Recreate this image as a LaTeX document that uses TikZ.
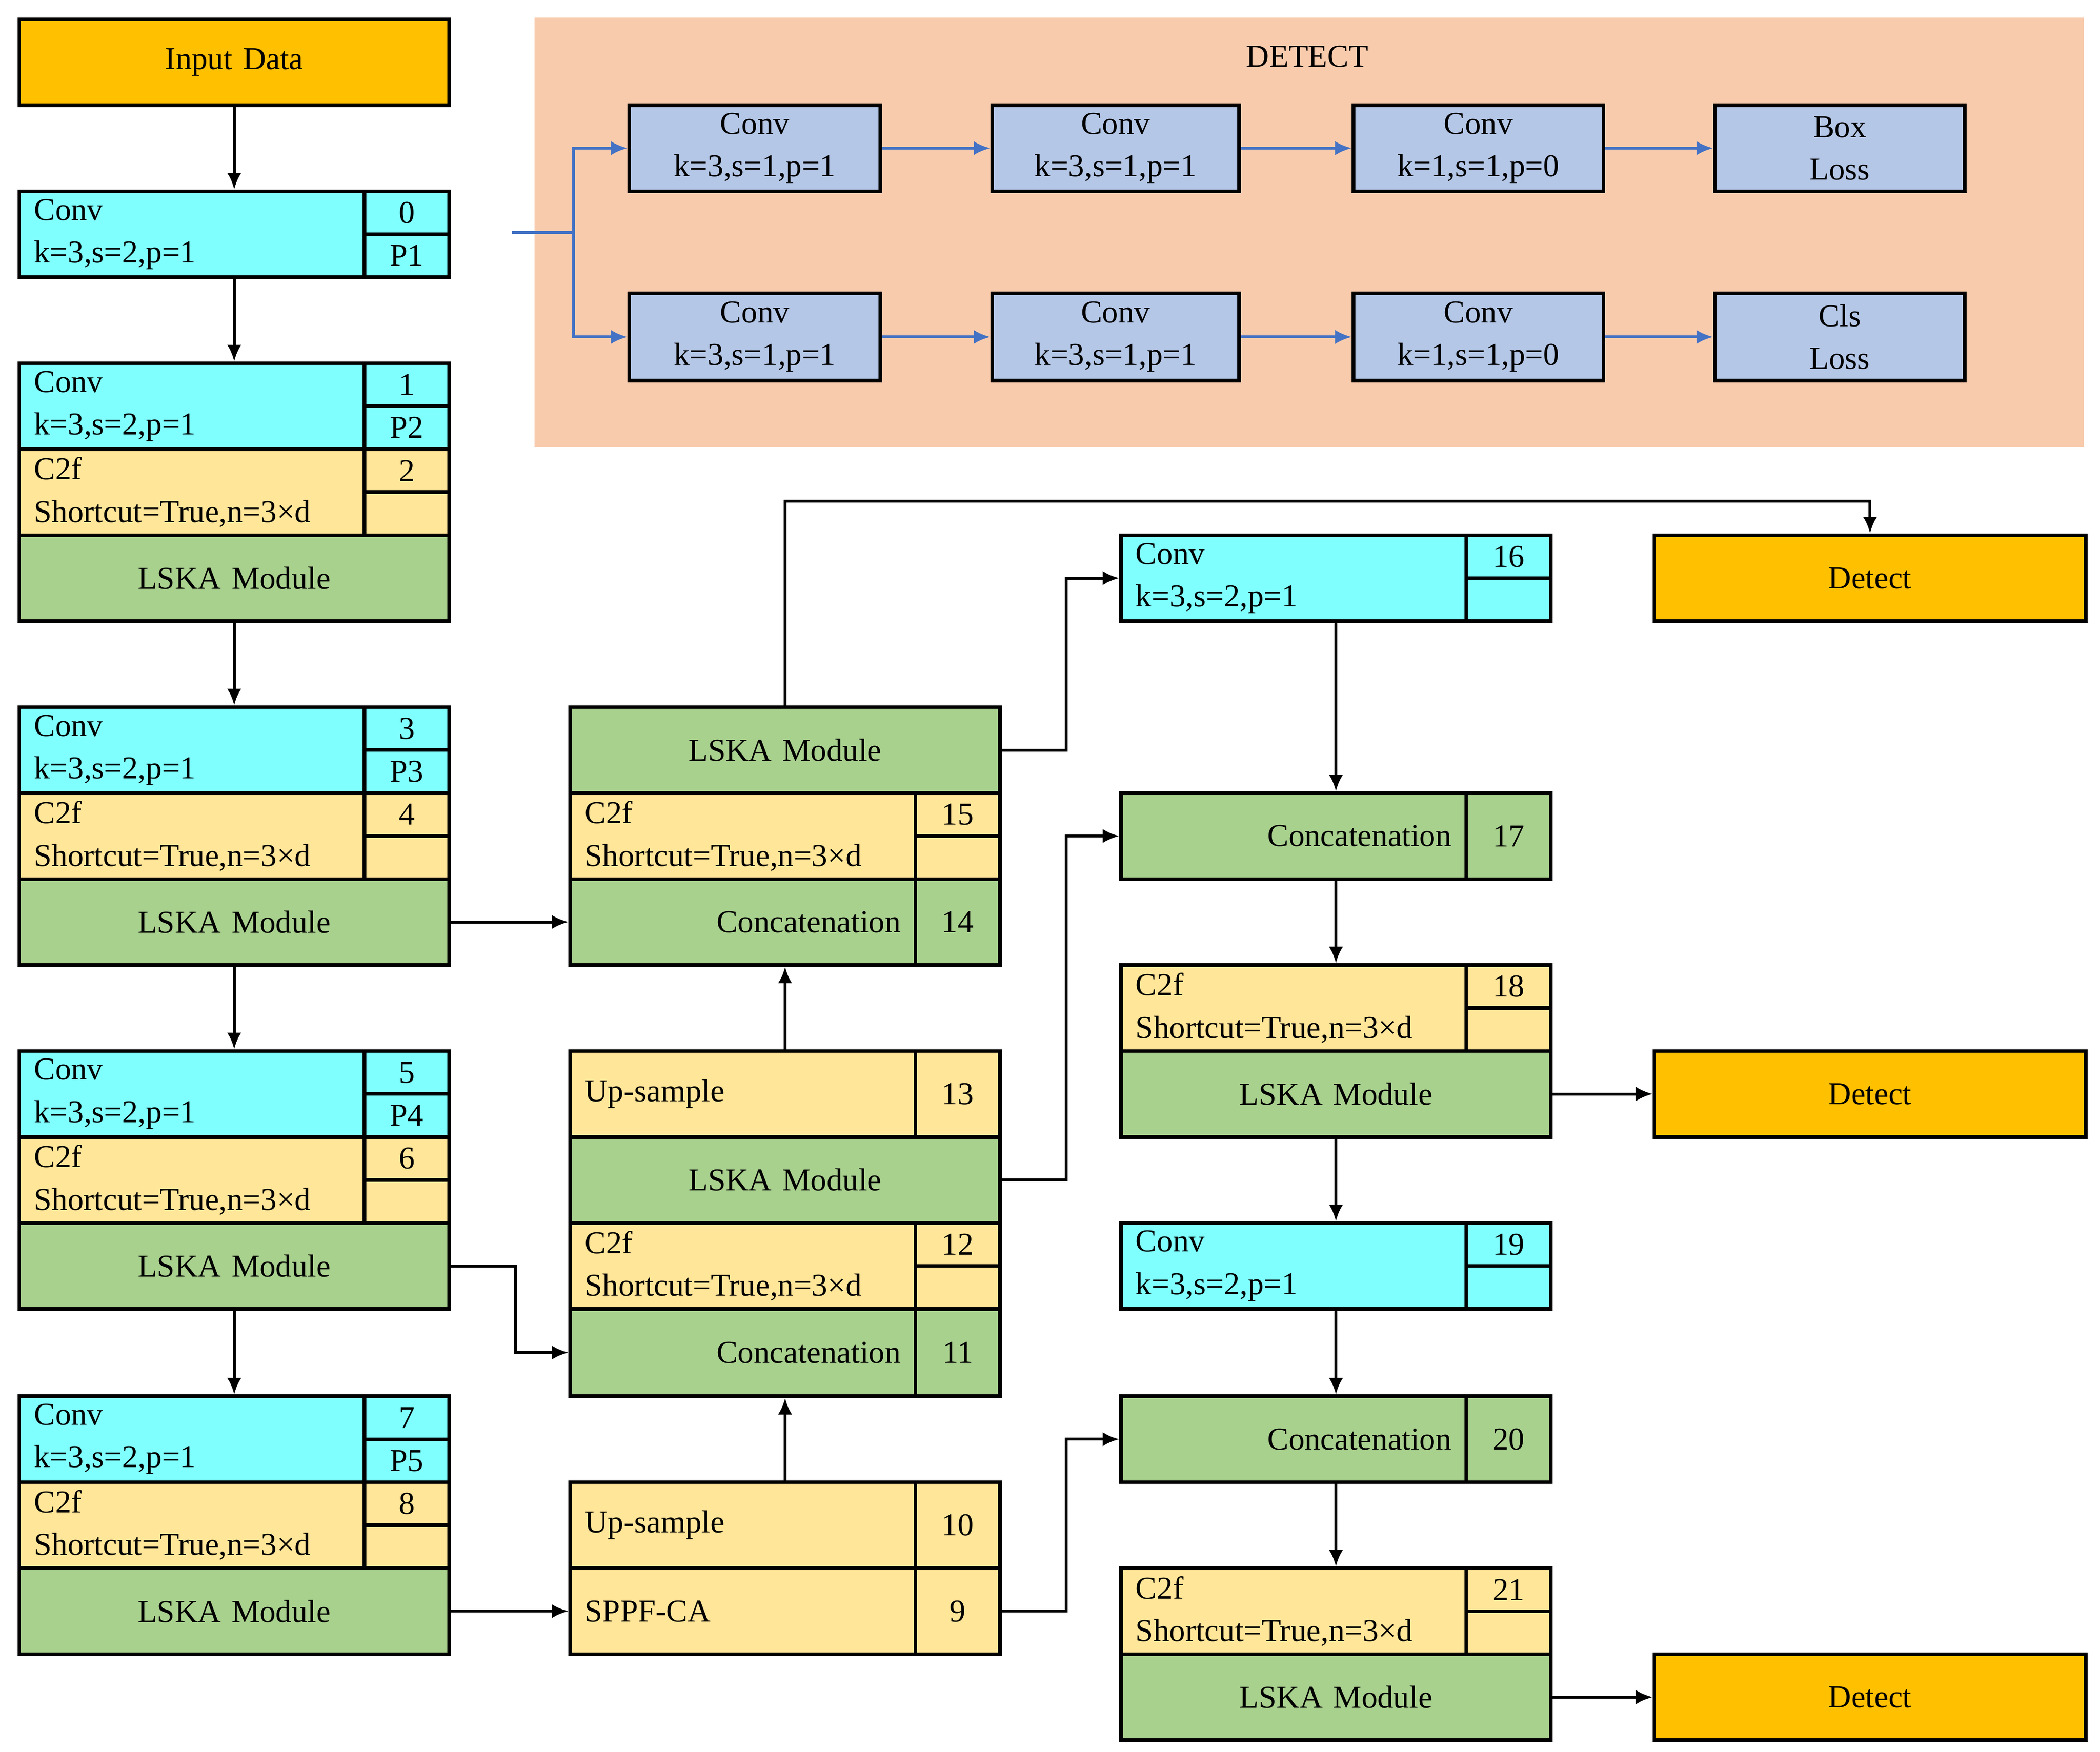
\documentclass[tikz,border=0pt]{standalone}
\usepackage{fontspec}
\setmainfont{Liberation Serif}
\usetikzlibrary{arrows.meta}
\definecolor{cyanc}{HTML}{80FFFF}
\definecolor{yelc}{HTML}{FFE699}
\definecolor{grnc}{HTML}{A9D18E}
\definecolor{orgc}{HTML}{FFC000}
\definecolor{bluc}{HTML}{B4C7E7}
\definecolor{panc}{HTML}{F8CBAD}
\definecolor{linc}{HTML}{4472C4}
% cell: name, x1, y1, x2, y2, style, text (pixel units)
\newcommand{\cellbox}[7]{%
  \pgfmathsetmacro\cw{(#4-#2)*0.02}\pgfmathsetmacro\ch{(#5-#3)*0.02}%
  \pgfmathsetmacro\tw{\cw-0.44}%
  \node[cell,#6,minimum width=\cw cm,minimum height=\ch cm,text width=\tw cm,anchor=north west] (#1) at (#2,#3) {#7};}
\begin{document}
\begin{tikzpicture}[x=0.02cm,y=-0.02cm,
  cell/.style={draw,line width=1.5pt,inner sep=0pt,font=\fontsize{13.5}{18}\selectfont},
  cy/.style={fill=cyanc,align=left}, yl/.style={fill=yelc,align=left},
  gr/.style={fill=grnc,align=center}, og/.style={fill=orgc,align=center},
  bl/.style={fill=bluc,align=center},
  num/.style={align=center},
  arr/.style={line width=1.2pt,-{Latex[length=7pt,width=6pt]}},
  barr/.style={line width=1.2pt,draw=linc,-{Latex[length=7pt,width=6pt]}}]
\useasboundingbox (0,0) rectangle (1563,1304);

% DETECT panel
\fill[panc] (398,13) rectangle (1551,333);
\node[font=\fontsize{13.5}{18}\selectfont] (dt) at (973,42) {DETECT};
\cellbox{b1}{467}{77}{654}{141}{bl}{Conv\\k=3,s=1,p=1}
\cellbox{b2}{737}{77}{921}{141}{bl}{Conv\\k=3,s=1,p=1}
\cellbox{b3}{1006}{77}{1192}{141}{bl}{Conv\\k=1,s=1,p=0}
\cellbox{b4}{1275}{77}{1461}{141}{bl}{Box\\Loss}
\cellbox{b5}{467}{217}{654}{282}{bl}{Conv\\k=3,s=1,p=1}
\cellbox{b6}{737}{217}{921}{282}{bl}{Conv\\k=3,s=1,p=1}
\cellbox{b7}{1006}{217}{1192}{282}{bl}{Conv\\k=1,s=1,p=0}
\cellbox{b8}{1275}{217}{1461}{282}{bl}{Cls\\Loss}
\coordinate (din) at (381,173);
\coordinate (br) at (427,173);
\draw[line width=1.2pt,linc] (din) -- (br);
\draw[barr] (br) |- (b1.west);
\draw[barr] (br) |- (b5.west);
\foreach \a/\b in {b1/b2,b2/b3,b3/b4,b5/b6,b6/b7,b7/b8} \draw[barr] (\a) -- (\b);

% column 1
\cellbox{in}{13}{13}{333}{77}{og}{Input Data}
\cellbox{c0}{13}{141}{270}{205}{cy}{Conv\\k=3,s=2,p=1}
\cellbox{n0}{270}{141}{333}{173}{cy,num}{0}
\cellbox{p0}{270}{173}{333}{205}{cy,num}{P1}
\foreach \g/\y/\n/\p/\m in {1/269/1/P2/2, 3/525/3/P3/4, 5/781/5/P4/6, 7/1038/7/P5/8}{
  \pgfmathtruncatemacro\ya{\y+32}\pgfmathtruncatemacro\yb{\y+64}
  \pgfmathtruncatemacro\yc{\y+96}\pgfmathtruncatemacro\yd{\y+128}
  \pgfmathtruncatemacro\ye{\y+192}
  \cellbox{c\n}{13}{\y}{270}{\yb}{cy}{Conv\\k=3,s=2,p=1}
  \cellbox{n\n}{270}{\y}{333}{\ya}{cy,num}{\n}
  \cellbox{p\n}{270}{\ya}{333}{\yb}{cy,num}{\p}
  \cellbox{c\m}{13}{\yb}{270}{\yd}{yl}{C2f\\Shortcut=True,n=3\texttimes d}
  \cellbox{n\m}{270}{\yb}{333}{\yc}{yl,num}{\m}
  \cellbox{e\m}{270}{\yc}{333}{\yd}{yl,num}{}
  \cellbox{l\m}{13}{\yd}{333}{\ye}{gr}{LSKA Module}
}

% column 2
\cellbox{l15}{423}{525}{743}{589}{gr}{LSKA Module}
\cellbox{c15}{423}{589}{680}{653}{yl}{C2f\\Shortcut=True,n=3\texttimes d}
\cellbox{n15}{680}{589}{743}{621}{yl,num}{15}
\cellbox{e15}{680}{621}{743}{653}{yl,num}{}
\cellbox{cc14}{423}{653}{680}{717}{gr,align=right}{Concatenation}
\cellbox{n14}{680}{653}{743}{717}{gr,num}{14}
\cellbox{u13}{423}{781}{680}{845}{yl}{Up-sample}
\cellbox{n13}{680}{781}{743}{845}{yl,num}{13}
\cellbox{l12}{423}{845}{743}{909}{gr}{LSKA Module}
\cellbox{c12}{423}{909}{680}{973}{yl}{C2f\\Shortcut=True,n=3\texttimes d}
\cellbox{n12}{680}{909}{743}{941}{yl,num}{12}
\cellbox{e12}{680}{941}{743}{973}{yl,num}{}
\cellbox{cc11}{423}{973}{680}{1038}{gr,align=right}{Concatenation}
\cellbox{n11}{680}{973}{743}{1038}{gr,num}{11}
\cellbox{u10}{423}{1102}{680}{1166}{yl}{Up-sample}
\cellbox{n10}{680}{1102}{743}{1166}{yl,num}{10}
\cellbox{sp9}{423}{1166}{680}{1230}{yl}{SPPF-CA}
\cellbox{n9}{680}{1166}{743}{1230}{yl,num}{9}

% column 3
\cellbox{cv16}{833}{397}{1090}{461}{cy}{Conv\\k=3,s=2,p=1}
\cellbox{n16}{1090}{397}{1153}{429}{cy,num}{16}
\cellbox{e16}{1090}{429}{1153}{461}{cy,num}{}
\cellbox{cc17}{833}{589}{1090}{653}{gr,align=right}{Concatenation}
\cellbox{n17}{1090}{589}{1153}{653}{gr,num}{17}
\cellbox{c18}{833}{717}{1090}{781}{yl}{C2f\\Shortcut=True,n=3\texttimes d}
\cellbox{n18}{1090}{717}{1153}{749}{yl,num}{18}
\cellbox{e18}{1090}{749}{1153}{781}{yl,num}{}
\cellbox{l18}{833}{781}{1153}{845}{gr}{LSKA Module}
\cellbox{cv19}{833}{909}{1090}{973}{cy}{Conv\\k=3,s=2,p=1}
\cellbox{n19}{1090}{909}{1153}{941}{cy,num}{19}
\cellbox{e19}{1090}{941}{1153}{973}{cy,num}{}
\cellbox{cc20}{833}{1038}{1090}{1102}{gr,align=right}{Concatenation}
\cellbox{n20}{1090}{1038}{1153}{1102}{gr,num}{20}
\cellbox{c21}{833}{1166}{1090}{1230}{yl}{C2f\\Shortcut=True,n=3\texttimes d}
\cellbox{n21}{1090}{1166}{1153}{1198}{yl,num}{21}
\cellbox{e21}{1090}{1198}{1153}{1230}{yl,num}{}
\cellbox{l21}{833}{1230}{1153}{1294}{gr}{LSKA Module}

% detect heads
\cellbox{d1}{1230}{397}{1551}{461}{og}{Detect}
\cellbox{d2}{1230}{781}{1551}{845}{og}{Detect}
\cellbox{d3}{1230}{1230}{1551}{1294}{og}{Detect}

% connectors column 1
\draw[arr] (in.south) -- (in.south |- c0.north);
\draw[arr] (in.south |- c0.south) -- (in.south |- c1.north);
\draw[arr] (l2.south) -- (l2.south |- c3.north);
\draw[arr] (l4.south) -- (l4.south |- c5.north);
\draw[arr] (l6.south) -- (l6.south |- c7.north);
% to column 2
\draw[arr] (l4.east) -- (cc14.west);
\draw[arr] (l6.east) -- ++(48,0) |- (cc11.west);
\draw[arr] (l8.east) -- (sp9.west);
\draw[arr] (l12 |- u10.north) -- (l12 |- cc11.south);
\draw[arr] (l12 |- u13.north) -- (l12 |- cc14.south);
\draw[arr] (l15.north) -- ++(0,-152) -| (d1.north);
% to column 3
\draw[arr] (l15.east) -- ++(48,0) |- (cv16.west);
\draw[arr] (l12.east) -- ++(48,0) |- (cc17.west);
\draw[arr] (n9.east) -- ++(48,0) |- (cc20.west);
\draw[arr] (l18 |- cv16.south) -- (l18 |- cc17.north);
\draw[arr] (l18 |- cc17.south) -- (l18 |- c18.north);
\draw[arr] (l18.south) -- (l18 |- cv19.north);
\draw[arr] (l18 |- cv19.south) -- (l18 |- cc20.north);
\draw[arr] (l18 |- cc20.south) -- (l18 |- c21.north);
\draw[arr] (l18.east) -- (d2.west);
\draw[arr] (l21.east) -- (d3.west);
\end{tikzpicture}
\end{document}
